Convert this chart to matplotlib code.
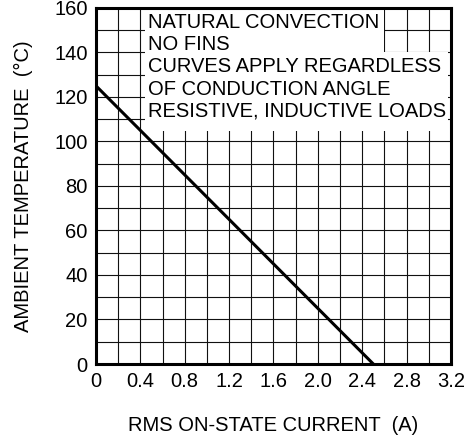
import numpy as np
import matplotlib.pyplot as plt
from matplotlib.patches import Rectangle

plt.rcParams['font.family'] = ['Liberation Sans', 'DejaVu Sans']

# derating curve (RMS current in A, ambient temperature in degC)
current = [0.0, 2.5]
temperature = [125, 0]

x_ticks = [0, 0.4, 0.8, 1.2, 1.6, 2.0, 2.4, 2.8, 3.2]
x_labels = ['0', '0.4', '0.8', '1.2', '1.6', '2.0', '2.4', '2.8', '3.2']
y_ticks = [0, 20, 40, 60, 80, 100, 120, 140, 160]

notes = ['NATURAL CONVECTION', 'NO FINS', 'CURVES APPLY REGARDLESS',
         'OF CONDUCTION ANGLE', 'RESISTIVE, INDUCTIVE LOADS']
note_y = [153.5, 143.5, 133.5, 123.5, 113.5]

fig = plt.figure(figsize=(4.71, 4.41), dpi=100)
ax = fig.add_axes([0.2038, 0.1746, 0.7537, 0.8073])

ax.plot(current, temperature, color='black', lw=2.2, zorder=3)

ax.set_xlim(0, 3.2)
ax.set_ylim(0, 160)
ax.set_xticks(x_ticks)
ax.set_xticklabels(x_labels)
ax.set_yticks(y_ticks)
ax.set_xticks(np.arange(0, 3.21, 0.2), minor=True)
ax.set_yticks(np.arange(0, 161, 10), minor=True)
ax.grid(which='both', color='#111111', lw=0.8)
ax.set_axisbelow(True)
ax.tick_params(which='both', length=0, labelsize=14.5, pad=6)

for s in ax.spines.values():
    s.set_linewidth(2.2)

# white panels behind the notes
ax.add_patch(Rectangle((0.44, 140), 2.16, 20, facecolor='white', edgecolor='none', zorder=2))
ax.add_patch(Rectangle((0.44, 104.5), 2.735, 35.6, facecolor='white', edgecolor='none', zorder=2))

for txt, yy in zip(notes, note_y):
    ax.text(0.47, yy, txt, fontsize=14.5, va='center', ha='left', zorder=4)

ax.set_xlabel('RMS ON-STATE CURRENT  (A)', fontsize=14.5, labelpad=18)
ax.set_ylabel('AMBIENT TEMPERATURE  (°C)', fontsize=14.5, labelpad=15)

fig.savefig('out.png', dpi=100)
